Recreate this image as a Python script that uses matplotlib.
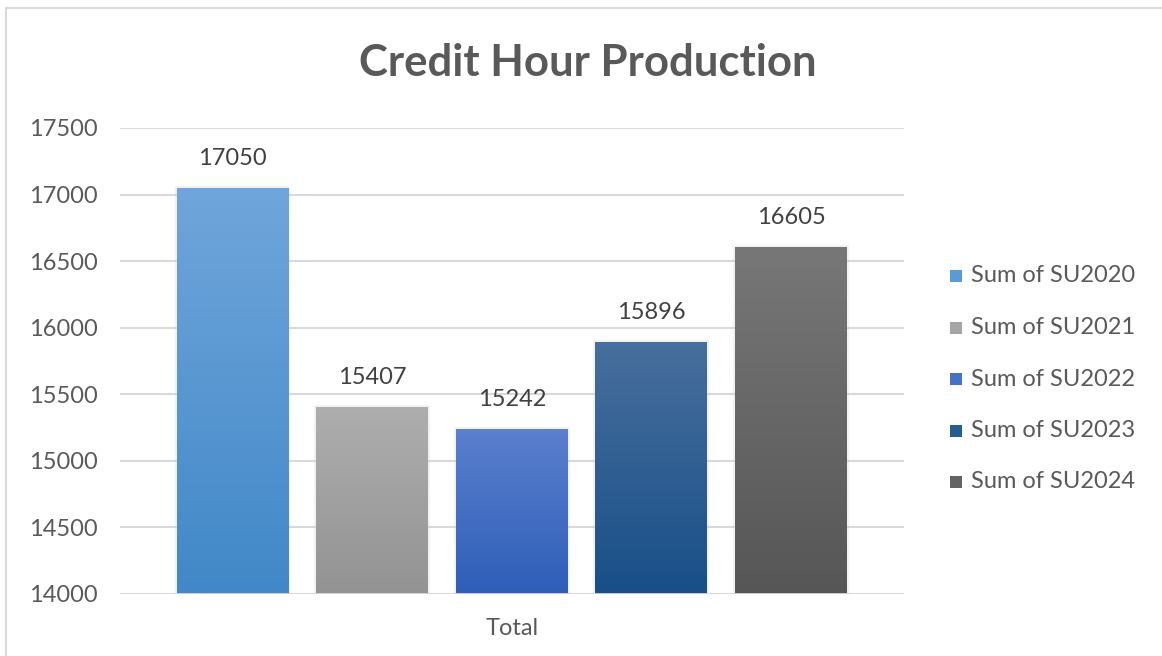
import numpy as np
import matplotlib.pyplot as plt
import matplotlib.colors as mcolors
from matplotlib.patches import Rectangle

plt.rcParams['font.family'] = ['Lato', 'DejaVu Sans']

series = ['Sum of SU2020', 'Sum of SU2021', 'Sum of SU2022', 'Sum of SU2023', 'Sum of SU2024']
values = [17050, 15407, 15242, 15896, 16605]
category = 'Total'
top_colors = ['#70A6DB', '#AEAEAE', '#5B80CE', '#486F9D', '#777777']
bottom_colors = ['#4188C8', '#939393', '#2E5EB8', '#184F88', '#565656']
legend_colors = ['#5B9BD5', '#A5A5A5', '#4472C4', '#255E91', '#636363']
yticks = [14000, 14500, 15000, 15500, 16000, 16500, 17000, 17500]

fig = plt.figure(figsize=(11.62, 6.56), dpi=100)
ax = fig.add_axes([120 / 1162, 62 / 656, 784 / 1162, 466 / 656])

# outer chart frame
fig.patches.append(Rectangle((6 / 1162, -0.1), 1.2, (656 - 8) / 656 + 0.1,
                             transform=fig.transFigure, fill=False,
                             edgecolor='#D9D9D9', lw=1.5))

ax.set_ylim(14000, 17500)
ax.set_xlim(-0.806, 4.81)
ax.set_yticks(yticks)
ax.set_yticklabels([str(t) for t in yticks], fontsize=17, color='#595959')
ax.tick_params(axis='y', length=0, pad=16)
ax.set_xticks([])
ax.yaxis.grid(True, color='#D9D9D9', lw=1.5)
ax.set_axisbelow(True)
for s in ax.spines.values():
    s.set_visible(False)

x = np.arange(len(values))
bars = ax.bar(x, np.array(values) - 14000, bottom=14000, width=0.8,
              color='none', edgecolor='none', zorder=3)

for i, b in enumerate(bars):
    c1 = np.array(mcolors.to_rgb(top_colors[i]))
    c2 = np.array(mcolors.to_rgb(bottom_colors[i]))
    t = np.linspace(0, 1, 256)[:, None]
    grad = (c1 * (1 - t) + c2 * t)[:, None, :]
    x0, y0 = b.get_x(), b.get_y()
    w, h = b.get_width(), b.get_height()
    # soft shadow around bar
    ax.add_patch(Rectangle((x0, y0), w, h, facecolor='#aaaaaa', edgecolor='#cccccc',
                           lw=3, alpha=0.25, zorder=2))
    im = ax.imshow(grad, extent=[x0, x0 + w, y0, y0 + h], aspect='auto',
                   origin='upper', zorder=3, interpolation='bilinear')
    im.set_clip_path(b)
    ax.annotate(str(values[i]), (x[i], values[i]), xytext=(0, 21),
                textcoords='offset points', ha='center', va='center',
                fontsize=17, color='#404040')

ax.text(2, -0.075, category, transform=ax.get_xaxis_transform(),
        ha='center', va='center', fontsize=17, color='#595959')

ax.axhline(14000, color='#D9D9D9', lw=2, zorder=4)

fig.text(588 / 1162, 1 - 63 / 656, 'Credit Hour Production', ha='center', va='center',
         fontsize=31.5, fontweight='bold', color='#595959')

for i, name in enumerate(series):
    yy = 1 - (276 + i * 51.5) / 656
    fig.patches.append(Rectangle((950 / 1162, yy - 6 / 656), 12 / 1162, 12 / 656,
                                 transform=fig.transFigure, facecolor=legend_colors[i],
                                 edgecolor='none'))
    fig.text(971 / 1162, yy, name, ha='left', va='center', fontsize=17, color='#595959')

fig.savefig('out.png', dpi=100)
